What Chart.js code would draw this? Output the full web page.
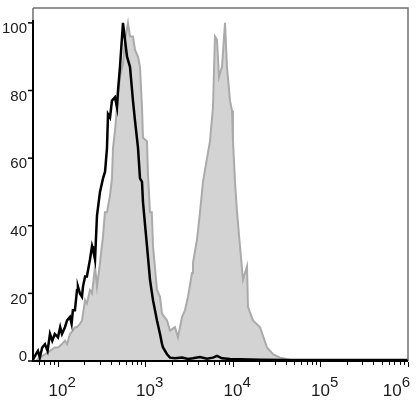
<!DOCTYPE html>
<html>
<head>
<meta charset="utf-8">
<script src="https://cdn.jsdelivr.net/npm/chart.js@4.4.1/dist/chart.umd.min.js"></script>
<style>
html, body { margin: 0; padding: 0; background: #fff; }
#wrap { width: 418px; height: 401px; }
</style>
</head>
<body>
<div id="wrap"><canvas id="myChart" width="418" height="401"></canvas></div>
<script>
// black open histogram (control)
var blackX = [52, 56, 59, 62, 66, 71, 76, 81, 86, 92, 100, 106, 111, 120, 127, 137, 143, 148, 156, 165,
              169, 178, 188, 193, 204, 214, 232, 245, 251, 265, 279, 302, 327, 345, 363, 373, 393, 414, 448, 472,
              485, 511, 553, 583, 615, 665, 719, 759, 821, 865, 912, 936, 1040, 1126, 1218, 1353, 1465, 1545, 1585, 1762,
              1905, 2173, 2612, 3060, 3490, 4197, 5046, 5905, 6561, 7482, 9245, 12020, 20370, 41400, 100000, 1000000];
var blackY = [0.5, 2, 3, 1, 4, 5, 3, 8, 6, 8, 7, 10, 8, 10, 12, 13, 11, 15, 15, 21,
              22, 20, 19, 22, 25, 25, 30, 34, 33, 30, 43, 50, 54, 56, 63, 73, 72, 77, 78, 75,
              80, 87, 100, 95, 90, 87, 77, 71, 63, 54, 53, 47, 34, 24, 18, 12, 8, 5, 4, 2,
              1, 0.8, 1, 0.6, 0.8, 1.2, 0.7, 1.0, 1.5, 0.8, 0.6, 0.5, 0.4, 0.3, 0.3, 0.3];

// gray filled histogram (stained)
var grayX = [56, 62, 71, 81, 92, 100, 111, 120, 127, 137, 148, 156, 165, 178, 188, 204, 214, 232, 245, 265,
             279, 302, 327, 344, 363, 393, 414, 425, 448, 472, 511, 553, 583, 631, 665, 719, 759, 821, 865, 912,
             936, 1040, 1068, 1126, 1180, 1218, 1353, 1465, 1545, 1762, 1905, 2173, 2350, 2612, 2826, 3060, 3400, 3490, 3880, 4197,
             4539, 5046, 5458, 5905, 6223, 6561, 6918, 7482, 8106, 8531, 9245, 9750, 10000, 10540, 11120, 12020, 13000, 14450, 14830, 16930,
             20370, 24490, 28640, 34430, 41400, 51170, 1000000];
var grayY = [0, 1, 2, 3, 4, 4, 5, 6, 5, 8, 9, 10, 10, 11, 12, 18, 17, 21, 20, 28,
             22, 29, 37, 44, 44, 49, 54, 63, 68, 75, 84, 88, 95, 100, 96, 96, 92, 90, 87, 75,
             66, 65, 55, 44, 44, 34, 21, 19, 14, 12, 9, 10, 7, 13, 15, 19, 26, 29, 36, 44,
             53, 60, 65, 75, 96, 95, 84, 87, 100, 87, 77, 74, 65, 53, 44, 34, 24, 28, 16, 12,
             10, 4, 2, 1, 0.5, 0, 0];

var yTicks = [0, 20, 40, 60, 80, 100];
var xExponents = [2, 3, 4, 5, 6];

function toPoints(xs, ys) {
    return xs.map(function(x, i) { return { x: x, y: ys[i] }; });
}

// axes, frame, ticks and labels
var flowAxes = {
    id: 'flowAxes',
    afterDraw: function(chart) {
        var ctx = chart.ctx;
        var a = chart.chartArea;
        var xs = chart.scales.x, ys = chart.scales.y;
        ctx.save();

        // thin gray frame on top and right
        ctx.strokeStyle = '#707070';
        ctx.lineWidth = 1.5;
        ctx.beginPath();
        ctx.moveTo(a.left, a.top);
        ctx.lineTo(a.right, a.top);
        ctx.lineTo(a.right, a.bottom);
        ctx.moveTo(a.left, a.top);
        ctx.lineTo(a.left, ys.getPixelForValue(100) - 3);
        ctx.stroke();

        // black axes
        ctx.strokeStyle = '#000';
        ctx.lineWidth = 2;
        ctx.beginPath();
        ctx.moveTo(a.left, ys.getPixelForValue(100) - 3);
        ctx.lineTo(a.left, a.bottom);
        ctx.lineTo(a.right, a.bottom);
        ctx.stroke();

        // x ticks (major + minor)
        ctx.lineWidth = 1;
        for (var e = 1; e <= 6; e++) {
            for (var k = 1; k <= 9; k++) {
                var v = k * Math.pow(10, e);
                if (v < xs.min || v > xs.max) continue;
                var px = Math.round(xs.getPixelForValue(v)) + 0.5;
                var len = (k === 1) ? 5 : 3;
                ctx.beginPath();
                ctx.moveTo(px, a.bottom + 1);
                ctx.lineTo(px, a.bottom + 1 + len);
                ctx.stroke();
            }
        }

        // y ticks
        ctx.lineWidth = 1.5;
        yTicks.forEach(function(t) {
            var py = ys.getPixelForValue(t);
            ctx.beginPath();
            ctx.moveTo(a.left - 5, py);
            ctx.lineTo(a.left, py);
            ctx.stroke();
        });

        // y labels
        ctx.fillStyle = '#1a1a1a';
        ctx.font = '15px "Liberation Sans", Arial, sans-serif';
        ctx.textAlign = 'right';
        ctx.textBaseline = 'middle';
        yTicks.forEach(function(t) {
            var py = ys.getPixelForValue(t);
            var off = (t === 0) ? -4 : 6;
            ctx.fillText(String(t), a.left - 6, py + off);
        });

        // x labels: 10 with raised exponent
        ctx.textAlign = 'left';
        ctx.textBaseline = 'alphabetic';
        xExponents.forEach(function(p) {
            var px = xs.getPixelForValue(Math.pow(10, p));
            ctx.font = '17px "Liberation Sans", Arial, sans-serif';
            var wBase = ctx.measureText('10').width;
            ctx.font = '15px "Liberation Sans", Arial, sans-serif';
            var wExp = ctx.measureText(String(p)).width;
            var left = px - wBase / 2;
            if (left + wBase + wExp > chart.width - 2) {
                left = chart.width - 2 - wBase - wExp - 6;
            }
            ctx.font = '17px "Liberation Sans", Arial, sans-serif';
            ctx.fillText('10', left, 396);
            ctx.font = '15px "Liberation Sans", Arial, sans-serif';
            ctx.fillText(String(p), left + wBase, 387);
        });

        ctx.restore();
    }
};

new Chart(document.getElementById('myChart').getContext('2d'), {
    type: 'line',
    data: {
        datasets: [{
            label: 'control',
            data: toPoints(blackX, blackY),
            borderColor: '#000000',
            borderWidth: 2.5,
            pointRadius: 0,
            fill: false,
            tension: 0,
            order: 0
        }, {
            label: 'stained',
            data: toPoints(grayX, grayY),
            borderColor: '#aaaaaa',
            backgroundColor: '#d3d3d3',
            borderWidth: 2,
            pointRadius: 0,
            fill: 'origin',
            tension: 0,
            order: 1
        }]
    },
    options: {
        responsive: false,
        animation: false,
        devicePixelRatio: 1,
        layout: { padding: { top: 8, right: 10, left: 0, bottom: 0 } },
        plugins: {
            legend: { display: false },
            tooltip: { enabled: false }
        },
        scales: {
            x: {
                type: 'logarithmic',
                min: 51.8,
                max: 1000000,
                grid: { display: false },
                border: { display: false },
                ticks: { display: false },
                afterFit: function(scale) { scale.height = 40; }
            },
            y: {
                min: 0,
                max: 104.4,
                grid: { display: false },
                border: { display: false },
                ticks: { display: false },
                afterFit: function(scale) { scale.width = 33; }
            }
        }
    },
    plugins: [flowAxes]
});
</script>
</body>
</html>
